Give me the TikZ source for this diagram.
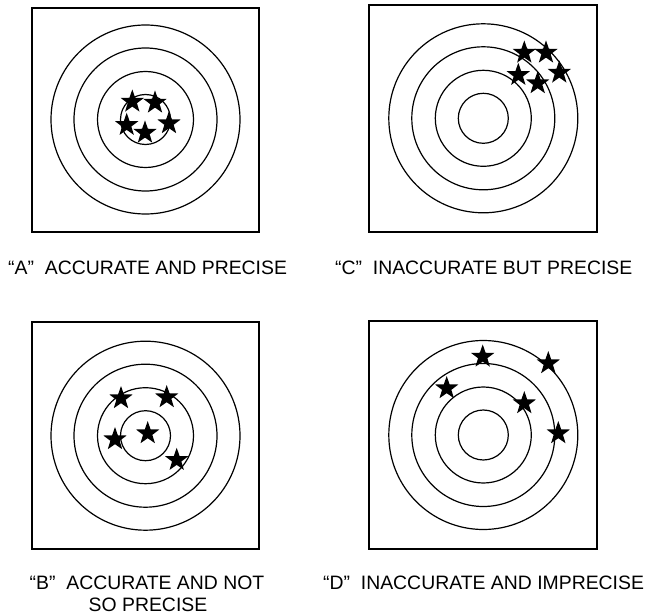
\documentclass[tikz,border=0pt]{standalone}
\usepackage{fontspec}
\setmainfont{Liberation Sans}
\usetikzlibrary{shapes.geometric}
\begin{document}
\begin{tikzpicture}[x=1pt,y=-1pt,
  ring/.style={line width=1.2pt},
  frame/.style={line width=1.2pt},
  hit/.style={star,star points=5,star point ratio=2.5,fill=black,draw=none,inner sep=0pt,minimum size=24.5pt},
  lbl/.style={font=\fontsize{19.4}{24}\selectfont,inner sep=0pt,anchor=base west}]
\useasboundingbox (0,0) rectangle (651,615);
\newcommand{\rings}[2]{%
  \foreach \r in {94.5,71.5,48,25} \draw[ring] (#1,#2) circle[radius=\r];}
% boxes
\draw[frame] (32,8) rectangle (259,232);
\draw[frame] (369,5) rectangle (597,232);
\draw[frame] (32,322) rectangle (259,549);
\draw[frame] (369,321) rectangle (597,549);
% rings
\rings{145.5}{119.5}
\rings{483.3}{118.3}
\rings{145.5}{435.7}
\rings{483.3}{435}
% A stars
\node[hit] (a1) at (132.3,101.7) {};
\node[hit] (a2) at (155,102.7) {};
\node[hit] (a3) at (126.7,125) {};
\node[hit] (a4) at (169,123.3) {};
\node[hit] (a5) at (145,132.7) {};
% C stars
\node[hit] (c1) at (524.3,52.7) {};
\node[hit] (c2) at (546,52.7) {};
\node[hit] (c3) at (518.3,75) {};
\node[hit] (c4) at (537.7,83.3) {};
\node[hit] (c5) at (559.3,72.7) {};
% B stars
\node[hit] (b1) at (121,398.3) {};
\node[hit] (b2) at (166.7,397.3) {};
\node[hit] (b3) at (115,439.3) {};
\node[hit] (b4) at (147.7,433.3) {};
\node[hit] (b5) at (176.7,460) {};
% D stars
\node[hit] (d1) at (482.7,356.7) {};
\node[hit] (d2) at (548.3,363.3) {};
\node[hit] (d3) at (446.7,388.3) {};
\node[hit] (d4) at (524.3,403.3) {};
\node[hit] (d5) at (558.3,433.3) {};
% labels
\node[lbl] (la) at (8,274) {“A”\ \ ACCURATE AND PRECISE};
\node[lbl] (lc) at (335,274) {“C”\ \ INACCURATE BUT PRECISE};
\node[lbl,anchor=base] (lb1) at (147,589) {“B”\ \ ACCURATE AND NOT};
\node[lbl,anchor=base] (lb2) at (148,611.5) {SO PRECISE};
\node[lbl] (ld) at (323,589) {“D”\ \ INACCURATE AND IMPRECISE};
\end{tikzpicture}
\end{document}
